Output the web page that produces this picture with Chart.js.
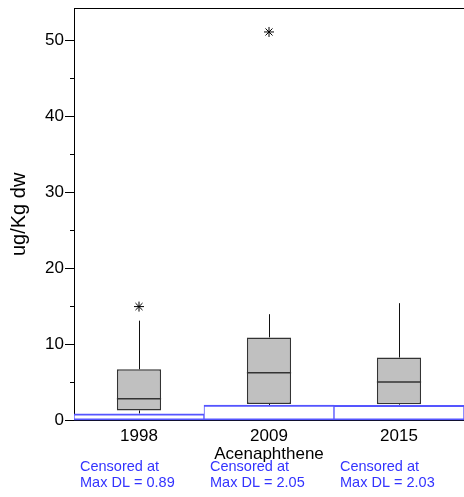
<!DOCTYPE html>
<html>
<head>
<meta charset="utf-8">
<script src="https://cdn.jsdelivr.net/npm/chart.js@4"></script>
<style>
  html, body { margin:0; padding:0; background:#fff; overflow:hidden; }
  #wrap { position:relative; width:464px; height:497px; overflow:hidden; }
</style>
</head>
<body>
<div id="wrap"><canvas id="c" width="470" height="497"></canvas></div>
<script>
// Acenaphthene (ug/Kg dw) - box plots per survey year, with censoring level

const YEARS = ['1998', '2009', '2015'];
const LOW = [0.95, 2.05, 2.03];
const Q1 = [1.35, 2.2, 2.15];
const MEDIAN = [2.9, 6.3, 5.1];
const Q3 = [6.75, 10.95, 8.3];
const HIGH = [13.15, 14.0, 15.45];
const OUTLIERS = [15.0, 51.1, null];
const MAX_DL = [0.89, 2.05, 2.03];
const NOTES = MAX_DL.map(v => ['Censored at', 'Max DL = ' + v.toFixed(2)]);
const Y_MAX = 54.25;

Chart.defaults.font.family = "'Liberation Sans', Arial, sans-serif";
Chart.defaults.color = '#000';

// force an axis box size and drop the label overhang padding
function fitTo(w, h) {
  return s => {
    if (w != null) s.width = w;
    if (h != null) s.height = h;
    s.paddingTop = s.paddingBottom = s.paddingLeft = s.paddingRight = 0;
  };
}

const boxParts = {
  id: 'boxParts',
  beforeDatasetsDraw(chart) {
    // whiskers go under the boxes so the censored band hides the low end
    const { ctx, scales: { x, y } } = chart;
    ctx.save();
    ctx.strokeStyle = '#111';
    ctx.lineWidth = 1;
    YEARS.forEach((_, i) => {
      const px = Math.round(x.getPixelForValue(i)) + 0.5;
      ctx.beginPath();
      ctx.moveTo(px, y.getPixelForValue(HIGH[i]));
      ctx.lineTo(px, y.getPixelForValue(Q3[i]));
      ctx.moveTo(px, y.getPixelForValue(Q1[i]));
      ctx.lineTo(px, y.getPixelForValue(LOW[i]));
      ctx.stroke();
    });
    ctx.restore();
  },
  afterDatasetsDraw(chart) {
    const { ctx, scales: { y } } = chart;
    const boxes = chart.getDatasetMeta(1).data;
    ctx.save();
    ctx.strokeStyle = '#333';
    ctx.lineWidth = 1.5;
    boxes.forEach((bar, i) => {
      const py = y.getPixelForValue(MEDIAN[i]);
      ctx.beginPath();
      ctx.moveTo(bar.x - bar.width / 2, py);
      ctx.lineTo(bar.x + bar.width / 2, py);
      ctx.stroke();
    });
    ctx.restore();
  }
};

new Chart(document.getElementById('c'), {
  type: 'bar',
  data: {
    labels: YEARS,
    datasets: [
      {
        type: 'line', label: 'outliers', data: OUTLIERS, showLine: false,
        pointStyle: 'star', pointRadius: 5, borderColor: '#000', borderWidth: 1,
        xAxisID: 'x', yAxisID: 'y', order: 0
      },
      {
        label: 'box', data: YEARS.map((_, i) => [Q1[i], Q3[i]]),
        backgroundColor: '#c0c0c0', borderColor: '#333', borderWidth: 1.5, borderSkipped: false,
        barPercentage: 0.34, categoryPercentage: 1, grouped: false,
        xAxisID: 'x', yAxisID: 'y', order: 1
      },
      {
        label: 'censored', data: MAX_DL.map(v => [0, v]),
        backgroundColor: '#fff', borderColor: '#5555ff',
        borderWidth: { top: 2, bottom: 2, left: 1, right: 1 }, borderSkipped: false,
        barPercentage: 1, categoryPercentage: 1, grouped: false,
        xAxisID: 'x', yAxisID: 'y', order: 2
      }
    ]
  },
  options: {
    responsive: false,
    animation: false,
    events: [],
    layout: { padding: { left: 0, top: 8, right: 5, bottom: 0 } },
    plugins: { legend: { display: false }, tooltip: { enabled: false } },
    scales: {
      x: {
        type: 'category', position: 'bottom', weight: 0, offset: true,
        grid: { display: false, drawTicks: false },
        border: { display: true, color: '#000', width: 1 },
        ticks: { font: { size: 17 }, padding: 5.5, maxRotation: 0, autoSkip: false },
        title: { display: true, text: 'Acenaphthene', font: { size: 17 }, padding: { top: 0, bottom: -5.2 } },
        afterFit: fitTo(null, 38.3)
      },
      notes: {
        type: 'category', labels: NOTES, position: 'bottom', weight: 1, offset: true,
        grid: { display: false, drawTicks: false },
        border: { display: false },
        ticks: {
          color: '#3333ff', font: { size: 14.5, lineHeight: 1.1 },
          align: 'start', labelOffset: -59, padding: 0.3, maxRotation: 0, autoSkip: false
        },
        afterFit: fitTo(null, 38)
      },
      xTop: {
        type: 'category', labels: YEARS, position: 'top', offset: true,
        grid: { display: false, drawTicks: false },
        ticks: { display: false },
        border: { display: true, color: '#000', width: 1 },
        afterFit: fitTo(null, 0)
      },
      y: {
        type: 'linear', position: 'left', weight: 1, min: 0, max: Y_MAX,
        ticks: { stepSize: 10, font: { size: 17 }, padding: 1 },
        afterBuildTicks: s => { s.ticks = s.ticks.filter(t => t.value % 10 === 0); },
        grid: { drawOnChartArea: false, tickLength: 9, color: '#000' },
        border: { color: '#000', width: 1 },
        title: { display: true, text: 'ug/Kg dw', font: { size: 20 }, padding: { top: 7, bottom: 0 } },
        afterFit: fitTo(74, null)
      },
      yMinor: {
        type: 'linear', position: 'left', weight: 0, min: 0, max: Y_MAX,
        ticks: { stepSize: 5, display: false },
        afterBuildTicks: s => { s.ticks = s.ticks.filter(t => t.value % 5 === 0); },
        grid: { drawOnChartArea: false, tickLength: 4, color: '#000' },
        border: { display: false },
        afterFit: fitTo(0, null)
      }
    }
  },
  plugins: [boxParts]
});
</script>
</body>
</html>
